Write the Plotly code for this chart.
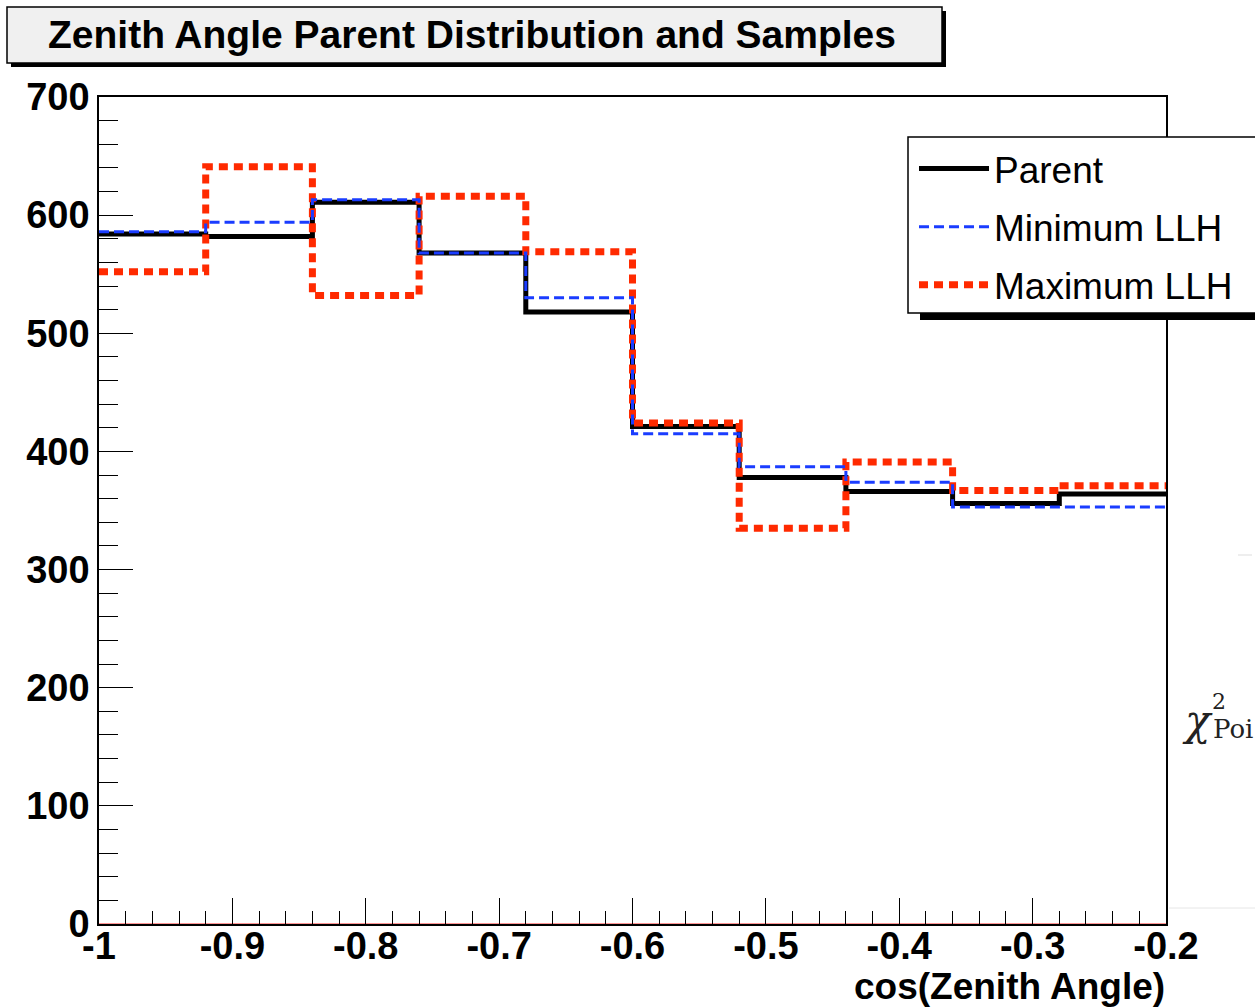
import plotly.graph_objects as go

# ---- data ----
bin_edges = [-1.0, -0.92, -0.84, -0.76, -0.68, -0.60, -0.52, -0.44, -0.36, -0.28, -0.20]
parent = [584, 582, 611, 568, 518, 421, 378, 366, 356, 364]
min_llh = [586, 594, 613, 568, 530, 415, 387, 374, 353, 353]
max_llh = [552, 641, 532, 616, 569, 424, 335, 391, 367, 371]
x_tickvals = [-1, -0.9, -0.8, -0.7, -0.6, -0.5, -0.4, -0.3, -0.2]
x_ticktext = ["-1", "-0.9", "-0.8", "-0.7", "-0.6", "-0.5", "-0.4", "-0.3", "-0.2"]
y_tickvals = [0, 100, 200, 300, 400, 500, 600, 700]

W, H = 1255, 1008
L, R, T, B = 99, 89, 97, 84
PW, PH = W - L - R, H - T - B


def px_x(p):
    return (p - L) / PW


def px_y(p):
    return (H - B - p) / PH


def steps(vals):
    return list(vals) + [vals[-1]]


FONT = "Liberation Sans, Arial, Helvetica, sans-serif"

fig = go.Figure()

fig.add_trace(go.Scatter(x=[bin_edges[0], bin_edges[-1]], y=[0, 0], mode="lines",
                         line=dict(color="rgba(255,60,60,0.55)", width=2),
                         showlegend=False, hoverinfo="skip"))
fig.add_trace(go.Scatter(x=bin_edges, y=steps(parent), mode="lines", name="Parent",
                         line=dict(color="black", width=5, shape="hv"), legendrank=1,
                         legendgroup="a"))
fig.add_trace(go.Scatter(x=bin_edges, y=steps(max_llh), mode="lines", name="Maximum LLH",
                         line=dict(color="#ff2a00", width=7, shape="hv", dash="9px,6px"),
                         legendrank=3, legendgroup="c"))
fig.add_trace(go.Scatter(x=bin_edges, y=steps(min_llh), mode="lines", name="Minimum LLH",
                         line=dict(color="#1a3cff", width=3, shape="hv", dash="10px,5px"),
                         legendrank=2, legendgroup="b"))

shapes = [
    # title box shadow + box
    dict(type="rect", xref="paper", yref="paper", x0=px_x(11), x1=px_x(946), y0=px_y(67), y1=px_y(11),
         fillcolor="black", line=dict(width=0), layer="above"),
    dict(type="rect", xref="paper", yref="paper", x0=px_x(7), x1=px_x(942), y0=px_y(63), y1=px_y(7),
         fillcolor="#f0f0f0", line=dict(color="black", width=1.5), layer="above"),
    # legend shadow + box
    dict(type="rect", xref="paper", yref="paper", x0=px_x(920), x1=px_x(1270), y0=px_y(320), y1=px_y(150),
         fillcolor="black", line=dict(width=0), layer="above"),
    dict(type="rect", xref="paper", yref="paper", x0=px_x(908), x1=px_x(1262), y0=px_y(313), y1=px_y(137),
         fillcolor="white", line=dict(color="black", width=1.5), layer="above"),
    # faint lines at right
    dict(type="line", xref="paper", yref="paper", x0=px_x(1238), x1=px_x(1252), y0=px_y(555), y1=px_y(555),
         line=dict(color="#dddddd", width=1)),
    dict(type="line", xref="paper", yref="paper", x0=px_x(1169), x1=px_x(1255), y0=px_y(908), y1=px_y(908),
         line=dict(color="#e6e6e6", width=1)),
]

annotations = [
    dict(text="Zenith Angle Parent Distribution and Samples", xref="paper", yref="paper",
         x=px_x(472), y=px_y(34), xanchor="center", yanchor="middle", showarrow=False,
         font=dict(family=FONT, size=39, color="black", weight="bold")),
    dict(text="cos(Zenith Angle)", xref="paper", yref="paper", x=1.0, y=px_y(1008),
         xanchor="right", yanchor="bottom", showarrow=False, borderpad=0,
         font=dict(family=FONT, size=37, color="black", weight="bold")),
    dict(text="χ", xref="paper", yref="paper", x=px_x(1197), y=px_y(720), xanchor="center",
         yanchor="middle", showarrow=False,
         font=dict(family="DejaVu Serif, serif", size=42, color="#222", style="italic")),
    dict(text="2", xref="paper", yref="paper", x=px_x(1219), y=px_y(701), xanchor="center",
         yanchor="middle", showarrow=False, font=dict(family="DejaVu Serif, serif", size=22, color="#222")),
    dict(text="Poi", xref="paper", yref="paper", x=px_x(1211), y=px_y(729), xanchor="left",
         yanchor="middle", showarrow=False, font=dict(family="DejaVu Serif, serif", size=26, color="#222")),
]

fig.update_layout(
    width=W, height=H,
    margin=dict(l=L, r=R, t=T, b=B),
    paper_bgcolor="white", plot_bgcolor="white",
    font=dict(family=FONT, color="black"),
    shapes=shapes, annotations=annotations,
    showlegend=True,
    legend=dict(x=px_x(914), y=px_y(138), xanchor="left", yanchor="top",
                bgcolor="rgba(0,0,0,0)", borderwidth=0,
                font=dict(family=FONT, size=37, color="black"),
                itemwidth=70, tracegroupgap=7, traceorder="grouped"),
    xaxis=dict(range=[-1, -0.2], tickvals=x_tickvals, ticktext=x_ticktext,
               ticks="inside", ticklen=26, tickwidth=1.2, tickcolor="black",
               minor=dict(ticks="inside", dtick=0.02, tick0=-1, ticklen=13, tickwidth=1.2, tickcolor="black"),
               showline=True, linecolor="black", linewidth=1.5, mirror=True,
               showgrid=False, zeroline=False, ticklabelstandoff=-12,
               tickfont=dict(family=FONT, size=38, color="black", weight="bold")),
    yaxis=dict(range=[0, 700], tickvals=y_tickvals,
               ticks="inside", ticklen=34, tickwidth=1.2, tickcolor="black",
               minor=dict(ticks="inside", dtick=20, tick0=0, ticklen=19, tickwidth=1.2, tickcolor="black"),
               showline=True, linecolor="black", linewidth=1.5, mirror=True,
               showgrid=False, zeroline=False,
               tickfont=dict(family=FONT, size=38, color="black", weight="bold")),
)

fig.write_html("out.html")
